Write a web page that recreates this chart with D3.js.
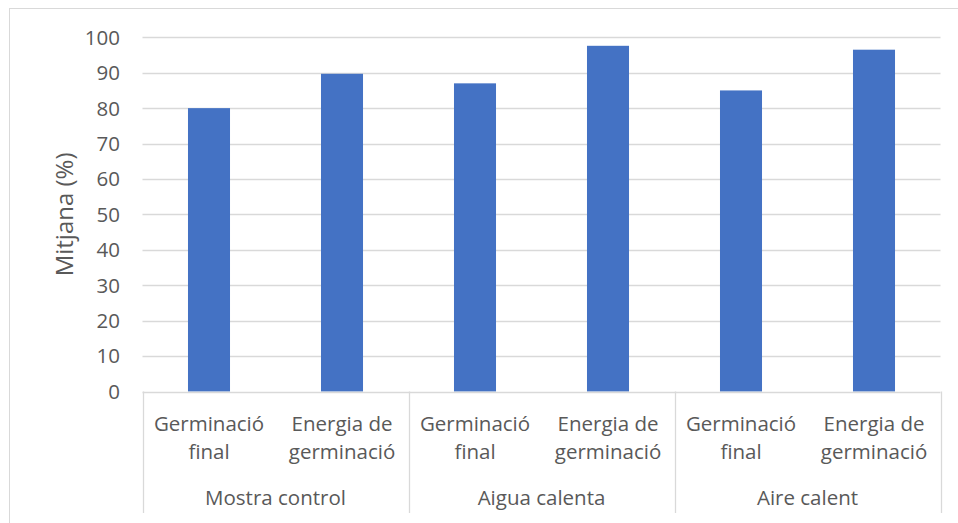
<!DOCTYPE html>
<html>
<head>
<meta charset="utf-8">
<script src="https://cdn.jsdelivr.net/npm/d3@7"></script>
<style>
  html, body { margin: 0; padding: 0; background: #fff; }
  svg { display: block; }
  text { font-family: "Open Sans", Lato, sans-serif; fill: #595959; }
</style>
</head>
<body>
<svg id="chart" width="958" height="523"></svg>
<script>
const groups = ["Mostra control", "Aigua calenta", "Aire calent"];
const subcategories = [["Germinació", "final"], ["Energia de", "germinació"]];
const values = [80.0, 89.7, 87.0, 97.6, 85.0, 96.5];
const yTicks = [0, 10, 20, 30, 40, 50, 60, 70, 80, 90, 100];
const yTitle = "Mitjana (%)";

const svg = d3.select("#chart");
const FS = 20.5;

// outer chart border (cropped at right and bottom)
svg.append("rect").attr("x", 9.5).attr("y", 8.5).attr("width", 960).attr("height", 530)
  .attr("fill", "#fff").attr("stroke", "#d9d9d9").attr("stroke-width", 1);

const plot = { left: 142.5, right: 940.5, top: 37.3, bottom: 391.5 };

const cats = [];
groups.forEach((g, gi) => subcategories.forEach((s, si) => cats.push({ id: gi + "-" + si, group: g, lines: s, gi })));
cats.forEach((c, i) => c.value = values[i]);

const x = d3.scaleBand().domain(cats.map(c => c.id))
  .range([plot.left, plot.right]).paddingInner(0.684).paddingOuter(0.342);
const y = d3.scaleLinear().domain([0, 100]).range([plot.bottom, plot.top]);

// gridlines
svg.append("g").selectAll("line").data(yTicks.filter(t => t > 0)).join("line")
  .attr("x1", plot.left).attr("x2", plot.right)
  .attr("y1", d => Math.round(y(d)) + 0.5).attr("y2", d => Math.round(y(d)) + 0.5)
  .attr("stroke", "#d9d9d9").attr("stroke-width", 1.3);

// y tick labels
svg.append("g").selectAll("text").data(yTicks).join("text")
  .attr("x", 120).attr("y", d => y(d)).attr("dy", "0.36em")
  .attr("text-anchor", "end").attr("font-size", FS).text(d => d);

// bars
svg.append("g").selectAll("rect").data(cats).join("rect")
  .attr("x", d => x(d.id)).attr("width", x.bandwidth())
  .attr("y", d => y(d.value)).attr("height", d => y(0) - y(d.value))
  .attr("fill", "#4472c4");

// x axis line
svg.append("line").attr("x1", plot.left).attr("x2", plot.right)
  .attr("y1", Math.round(y(0)) + 0.5).attr("y2", Math.round(y(0)) + 0.5)
  .attr("stroke", "#d9d9d9").attr("stroke-width", 1.3);

// group separators
const step = x.step();
const sepX = d3.range(groups.length + 1).map(i => plot.left + i * subcategories.length * step);
svg.append("g").selectAll("line").data(sepX).join("line")
  .attr("x1", d => Math.round(d) + 0.5).attr("x2", d => Math.round(d) + 0.5)
  .attr("y1", plot.bottom).attr("y2", 513)
  .attr("stroke", "#d9d9d9").attr("stroke-width", 1.3);

// category labels
const catG = svg.append("g").selectAll("text").data(cats).join("text")
  .attr("text-anchor", "middle").attr("font-size", FS);
catG.each(function(d) {
  const t = d3.select(this);
  const cx = x(d.id) + x.bandwidth() / 2;
  d.lines.forEach((ln, li) => {
    t.append("tspan").attr("x", cx).attr("y", 431 + li * 28).text(ln);
  });
});

// group labels
svg.append("g").selectAll("text").data(groups).join("text")
  .attr("x", (d, i) => (sepX[i] + sepX[i + 1]) / 2).attr("y", 505)
  .attr("text-anchor", "middle").attr("font-size", FS).text(d => d);

// y title
svg.append("text").attr("transform", `translate(73, ${(plot.top + plot.bottom) / 2}) rotate(-90)`)
  .attr("text-anchor", "middle").attr("font-size", 24).text(yTitle);
</script>
</body>
</html>
